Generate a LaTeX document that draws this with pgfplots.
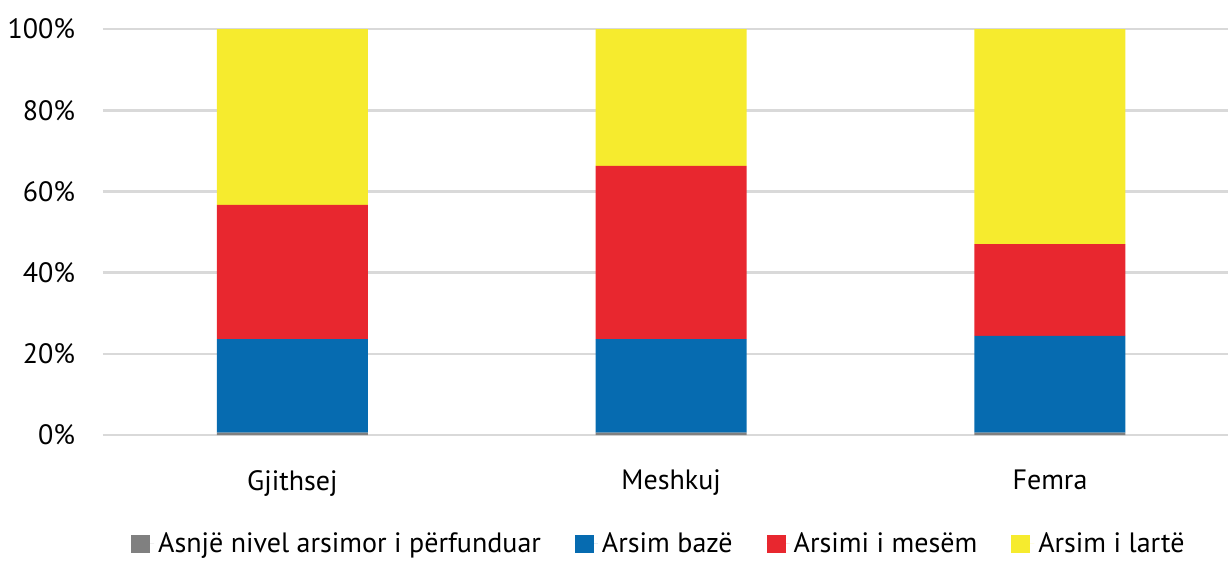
\documentclass[border=0pt]{standalone}
\usepackage{pgfplots}
\pgfplotsset{compat=1.18}
\usepackage{fontspec}
\setmainfont{PT Sans}
\definecolor{cgrey}{HTML}{808080}
\definecolor{cblue}{HTML}{066BB0}
\definecolor{cred}{HTML}{E8272F}
\definecolor{cyellow}{HTML}{F6EB2E}
\definecolor{cgrid}{HTML}{D9D9D9}
\begin{document}
\begin{tikzpicture}
\begin{axis}[
  scale only axis,
  width=562.5pt, height=203pt,
  ybar stacked,
  bar width=75.5pt,
  xmin=-0.5, xmax=2.47,
  ymin=0, ymax=100,
  xtick={0,1,2},
  xticklabels={Gjithsej,Meshkuj,Femra},
  ytick={0,20,40,60,80,100},
  yticklabel={\pgfmathprintnumber{\tick}\%},
  /pgf/number format/assume math mode=true,
  tick label style={font=\fontsize{14}{16}\selectfont, text=black},
  yticklabel style={xshift=-10.5pt},
  xticklabel style={yshift=-14pt},
  major tick length=0pt,
  axis line style={draw=none},
  ymajorgrids,
  grid style={cgrid, line width=1.3pt},
  legend style={at={(0.495,-0.268)}, anchor=center, draw=none, fill=none,
    inner ysep=0pt,
    legend columns=-1, font=\fontsize{14}{16}\selectfont,
    /tikz/every even column/.append style={column sep=15pt}},
  legend image code/.code={\path (0pt,0pt) -- (11.5pt,0pt);\fill[#1] (0pt,-4.5pt) rectangle (9.5pt,4.5pt);},
]
\addplot[fill=cgrey, draw=none] coordinates {(0,0.6) (1,0.6) (2,0.6)};
\addplot[fill=cblue, draw=none] coordinates {(0,23.0) (1,23.0) (2,23.8)};
\addplot[fill=cred, draw=none] coordinates {(0,33.1) (1,42.7) (2,22.6)};
\addplot[fill=cyellow, draw=none] coordinates {(0,43.3) (1,33.7) (2,53.0)};
\legend{Asnjë nivel arsimor i përfunduar, Arsim bazë, Arsimi i mesëm, Arsim i lartë}
\end{axis}
\pgfresetboundingbox
\path[use as bounding box] ([xshift=-51.5pt,yshift=-64pt]current axis.south west) rectangle ([yshift=14.5pt]current axis.north east);
\end{tikzpicture}
\end{document}
